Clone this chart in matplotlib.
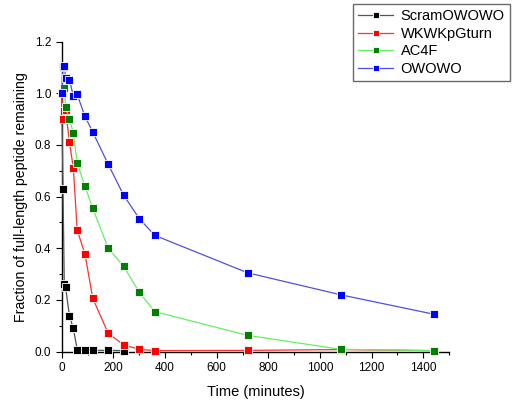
import matplotlib.pyplot as plt
from matplotlib.ticker import MultipleLocator

plt.rcParams['font.family'] = ['Liberation Sans', 'DejaVu Sans']

# time points (minutes)
t_scram = [0, 5, 10, 15, 30, 45, 60, 90, 120, 180, 240]
scram = [1.0, 0.63, 0.26, 0.25, 0.138, 0.09, 0.008, 0.005, 0.005, 0.005, 0.004]

t_all = [0, 5, 10, 15, 30, 45, 60, 90, 120, 180, 240, 300, 360, 720, 1080, 1440]
wkwk = [1.0, 0.90, 0.93, 0.935, 0.81, 0.71, 0.47, 0.378, 0.207, 0.071, 0.026,
        0.009, 0.004, 0.005, 0.008, 0.004]
ac4f = [1.0, 1.0, 1.02, 0.945, 0.90, 0.845, 0.73, 0.64, 0.555, 0.40, 0.33,
        0.23, 0.155, 0.063, 0.009, 0.004]
owowo = [1.0, 1.10, 1.107, 1.06, 1.05, 0.99, 0.995, 0.91, 0.85, 0.725, 0.605,
         0.515, 0.45, 0.305, 0.22, 0.145]

series = [
    ("ScramOWOWO", t_scram, scram, "#555555", "black"),
    ("WKWKpGturn", t_all, wkwk, "#ff3030", "red"),
    ("AC4F", t_all, ac4f, "#66ee66", "green"),
    ("OWOWO", t_all, owowo, "#5050e0", "blue"),
]

fig = plt.figure(figsize=(5.16, 4.07), dpi=100)
ax = fig.add_axes([0.1196, 0.136, 0.7508, 0.762])

for name, t, y, lc, mc in series:
    ax.plot(t, y, color=lc, lw=0.9, marker="s", markersize=5.5,
            markerfacecolor=mc, markeredgecolor="white", markeredgewidth=0.6,
            label=name, clip_on=False, zorder=3)

ax.set_xlim(0, 1500)
ax.set_ylim(0, 1.2)
ax.xaxis.set_major_locator(MultipleLocator(200))
ax.xaxis.set_minor_locator(MultipleLocator(100))
ax.yaxis.set_major_locator(MultipleLocator(0.2))
ax.yaxis.set_minor_locator(MultipleLocator(0.1))
ax.yaxis.set_major_formatter(plt.FormatStrFormatter("%.1f"))
ax.tick_params(which="major", direction="out", length=4, width=0.8, labelsize=8.5)
ax.tick_params(which="minor", direction="out", length=2.5, width=0.8)

for s in ["top", "right"]:
    ax.spines[s].set_visible(False)
for s in ["left", "bottom"]:
    ax.spines[s].set_linewidth(1.0)

ax.set_xlabel("Time (minutes)", fontsize=10.5, labelpad=8)
ax.set_ylabel("Fraction of full-length peptide remaining", fontsize=10.2, labelpad=5)

leg = fig.legend(loc="upper right", bbox_to_anchor=(0.988, 0.99), fontsize=10.5,
                 frameon=True, fancybox=False, borderaxespad=0, labelspacing=0.25,
                 handlelength=2.4, handletextpad=0.5, borderpad=0.35, markerscale=0.8)
leg.get_frame().set_edgecolor("#444444")
leg.get_frame().set_linewidth(1.0)

fig.savefig("out.png", dpi=100)
